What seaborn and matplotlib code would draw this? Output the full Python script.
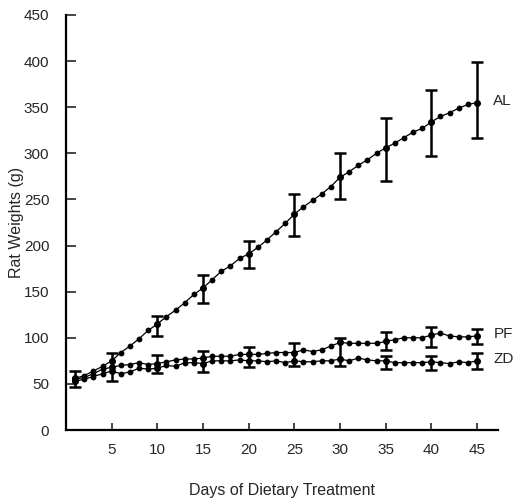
import numpy as np
import pandas as pd
import matplotlib
matplotlib.use("Agg")
import matplotlib.pyplot as plt
import seaborn as sns

nan = np.nan

# ---- data ----
days = list(range(1, 46))
al = [56, 59, 64, 69, 75, 84, 91, 99, 108, 115,
      123, 130, 138, 147, 154, 163, 172, 178, 186, 191,
      198, 206, 215, 224, 234, 242, 249, 256, 264, 274,
      280, 287, 293, 300, 306, 311, 317, 323, 327, 334,
      340, 344, 349, 353, 355]
pf = [55, 57, 61, 66, 68, 70, 71, 73, 71, 72,
      74, 76, 77, 77, 78, 80, 80, 80, 82, 82,
      82, 83, 84, 84, 84, 87, 85, 87, 91, 95,
      94, 94, 94, 94, 96, 98, 100, 100, 100, 103,
      105, 102, 101, 101, 102]
zd = [53, 55, 58, 61, 64, 61, 63, 67, 66, 67,
      70, 69, 73, 73, 72, 75, 75, 75, 76, 75,
      75, 74, 75, 73, 75, 74, 74, 75, 75, 77,
      75, 78, 76, 75, 75, 73, 73, 73, 73, 74,
      73, 72, 74, 73, 75]

err_days = [1, 5, 10, 15, 20, 25, 30, 35, 40, 45]
# error-bar ends; NaN = that end merges into the neighbouring series' bar
al_hi = [64, 84, 124, 168, 205, 256, 300, 338, 369, 399]
al_lo = [nan, nan, 102, 138, 176, 210, 250, 270, 297, 317]
pf_hi = [nan, nan, 81, 86, 90, 94, 100, 106, 112, 109]
pf_lo = [nan, nan, nan, nan, nan, nan, nan, 87, 90, 93]
zd_hi = [nan, nan, nan, nan, nan, nan, nan, 80, 80, 84]
zd_lo = [47, 53, 62, 63, 68, 69, 69, 66, 65, 66]

groups = ["AL", "PF", "ZD"]
x_ticks = [5, 10, 15, 20, 25, 30, 35, 40, 45]
y_ticks = [0, 50, 100, 150, 200, 250, 300, 350, 400, 450]

# ---- figure ----
sns.set_style("ticks")
plt.rcParams['font.family'] = ['Liberation Sans', 'DejaVu Sans']

W, H = 513, 501
fig = plt.figure(figsize=(W / 100, H / 100), dpi=100)
ax = fig.add_axes([66 / W, 71 / H, 432 / W, 415 / H])

df = pd.DataFrame({
    "day": days * 3,
    "weight": al + pf + zd,
    "group": ["AL"] * len(days) + ["PF"] * len(days) + ["ZD"] * len(days),
})
for g in groups:
    sns.lineplot(data=df[df.group == g], x="day", y="weight", ax=ax,
                 color="black", lw=0.9, marker="o", markersize=4.2,
                 markeredgecolor="black", markeredgewidth=0, legend=False)

# error bars
series = {"AL": al, "PF": pf, "ZD": zd}
his = {"AL": al_hi, "PF": pf_hi, "ZD": zd_hi}
los = {"AL": al_lo, "PF": pf_lo, "ZD": zd_lo}
idx = [d - 1 for d in err_days]
for k, g in enumerate(groups):
    v = np.array(series[g], float)[idx]
    hi = np.array(his[g], float)
    lo = np.array(los[g], float)
    if k > 0:
        above = np.array(series[groups[k - 1]], float)[idx]
    else:
        above = v
    top = np.where(np.isnan(hi), above, hi)
    bot = np.where(np.isnan(lo), v, lo)
    ax.vlines(err_days, bot, top, color="black", lw=1.8)
    ax.plot(err_days, hi, ls="none", marker="_", ms=9, mew=1.8, color="black")
    ax.plot(err_days, lo, ls="none", marker="_", ms=9, mew=1.8, color="black")
    ax.plot(err_days, v, ls="none", marker="o", ms=5, mew=0, color="black")

# series labels at the right
for g in groups:
    ax.text(46.8, series[g][-1] + 2, g, fontsize=11, va="center", ha="left")

ax.set_xlim(0, 47.3)
ax.set_ylim(0, 450)
ax.set_xticks(x_ticks)
ax.set_yticks(y_ticks)
ax.tick_params(axis="y", direction="in", length=7, width=1.2, pad=12, labelsize=11)
ax.tick_params(axis="x", direction="in", length=5, width=1.2, pad=9, labelsize=11)
sns.despine(ax=ax)
for s in ("left", "bottom"):
    ax.spines[s].set_linewidth(1.6)
    ax.spines[s].set_color("black")

ax.set_xlabel("Days of Dietary Treatment", fontsize=11.5)
ax.set_ylabel("Rat Weights (g)", fontsize=11.5)
ax.xaxis.set_label_coords(0.5, -0.128)
ax.yaxis.set_label_coords(-0.097, 0.5)

fig.savefig("out.png", dpi=100)
